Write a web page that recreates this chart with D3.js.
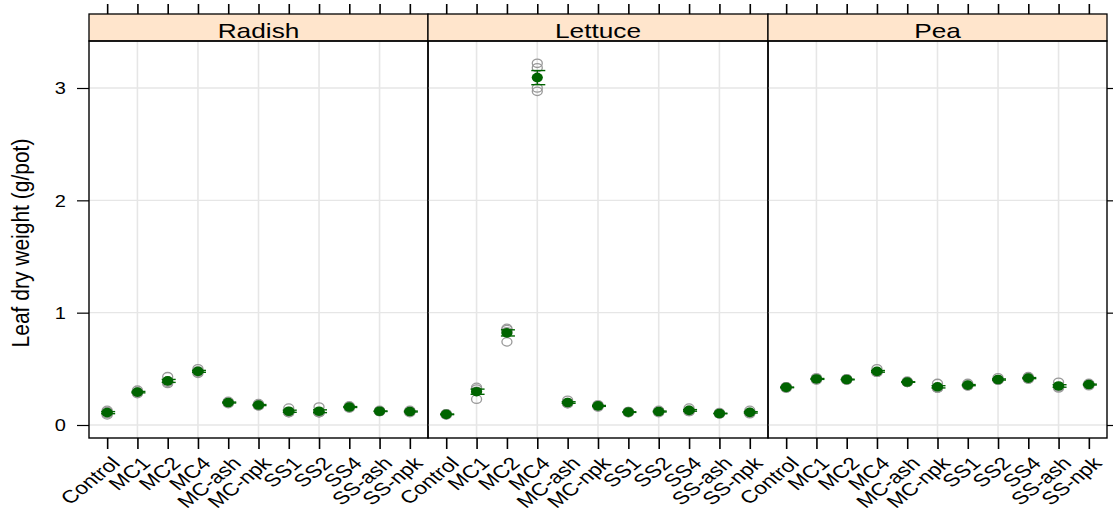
<!DOCTYPE html>
<html>
<head>
<meta charset="utf-8">
<script src="https://cdn.jsdelivr.net/npm/d3@7"></script>
<style>
  body { margin: 0; background: #fff; }
  svg { display: block; }
  text { font-family: "Liberation Sans", Arial, sans-serif; fill: #000; }
</style>
</head>
<body>
<svg id="chart" width="1113" height="513"></svg>
<script>
// Panels (crops) and the treatments along each x axis
const crops = ["Radish", "Lettuce", "Pea"];
const treatments = ["Control", "MC1", "MC2", "MC4", "MC-ash", "MC-npk",
                    "SS1", "SS2", "SS4", "SS-ash", "SS-npk"];
const yTickValues = [0, 1, 2, 3];
const gridY = [0, 1, 2, 3];
const gridXIndex = [1, 3, 5, 7, 9];   // pretty() breaks 2,4,6,8,10 of the factor axis
const yTitle = "Leaf dry weight (g/pot)";

// Leaf dry weight (g/pot) of each pot, four replicates per treatment
const radishLeaf = [
  [0.13, 0.09, 0.10, 0.12],
  [0.31, 0.29, 0.28, 0.29],
  [0.43, 0.37, 0.38, 0.39],
  [0.50, 0.47, 0.46, 0.48],
  [0.21, 0.19, 0.20, 0.20],
  [0.19, 0.17, 0.18, 0.17],
  [0.15, 0.11, 0.12, 0.11],
  [0.16, 0.11, 0.11, 0.11],
  [0.17, 0.16, 0.16, 0.15],
  [0.13, 0.12, 0.12, 0.12],
  [0.13, 0.12, 0.12, 0.11]
];
const lettuceLeaf = [
  [0.10, 0.09, 0.09, 0.10],
  [0.335, 0.23, 0.32, 0.30],
  [0.86, 0.74, 0.85, 0.83],
  [3.22, 3.18, 3.00, 2.97],
  [0.22, 0.19, 0.20, 0.19],
  [0.18, 0.17, 0.17, 0.16],
  [0.12, 0.11, 0.12, 0.11],
  [0.13, 0.11, 0.12, 0.12],
  [0.15, 0.12, 0.13, 0.12],
  [0.11, 0.10, 0.10, 0.10],
  [0.13, 0.10, 0.11, 0.11]
];
const peaLeaf = [
  [0.34, 0.33, 0.34, 0.33],
  [0.42, 0.40, 0.41, 0.41],
  [0.41, 0.40, 0.41, 0.40],
  [0.50, 0.47, 0.47, 0.47],
  [0.39, 0.38, 0.38, 0.38],
  [0.37, 0.33, 0.33, 0.33],
  [0.37, 0.35, 0.35, 0.35],
  [0.42, 0.40, 0.40, 0.40],
  [0.43, 0.42, 0.41, 0.41],
  [0.38, 0.33, 0.34, 0.34],
  [0.37, 0.35, 0.36, 0.36]
];
const cropData = [radishLeaf, lettuceLeaf, peaLeaf];

// ---- layout ----
const sx = 1.25;                       // horizontal stretch of glyphs and markers
const panelEdges = [89, 428, 768, 1107];
const stripTop = 14, stripBottom = 41, plotBottom = 438;
const stripFill = "#ffe5cc";
const green = "#006400";
const grey = "#999999";
const gridColor = "#e6e6e6";

const svg = d3.select("#chart");

const y = d3.scaleLinear().domain([0, 3]).range([425, 88]);

function meanSE(vals) {
  const m = d3.mean(vals);
  const se = d3.deviation(vals) / Math.sqrt(vals.length);
  return { m, se };
}

crops.forEach((crop, ci) => {
  const x0 = panelEdges[ci], x1 = panelEdges[ci + 1];
  const x = d3.scalePoint().domain(treatments).range([x0, x1]).padding(0.6);
  const g = svg.append("g");

  // grid
  g.selectAll("line.gy").data(gridY).join("line")
    .attr("x1", x0).attr("x2", x1)
    .attr("y1", d => y(d)).attr("y2", d => y(d))
    .attr("stroke", gridColor).attr("stroke-width", 1.3);
  g.selectAll("line.gx").data(gridXIndex).join("line")
    .attr("x1", d => x(treatments[d])).attr("x2", d => x(treatments[d]))
    .attr("y1", stripBottom).attr("y2", plotBottom)
    .attr("stroke", gridColor).attr("stroke-width", 1.6);

  // strip
  g.append("rect")
    .attr("x", x0).attr("y", stripTop)
    .attr("width", x1 - x0).attr("height", stripBottom - stripTop)
    .attr("fill", stripFill).attr("stroke", "#000").attr("stroke-width", 1.3);
  g.append("text")
    .attr("transform", `translate(${(x0 + x1) / 2},${(stripTop + stripBottom) / 2 + 3}) scale(${sx},1)`)
    .attr("text-anchor", "middle").attr("dominant-baseline", "central")
    .attr("font-size", 21).text(crop);

  // raw observations
  const data = cropData[ci];
  const obs = [];
  data.forEach((vals, ti) => vals.forEach(v => obs.push({ t: treatments[ti], v })));
  g.selectAll("ellipse.obs").data(obs).join("ellipse")
    .attr("cx", d => x(d.t)).attr("cy", d => y(d.v))
    .attr("rx", 5).attr("ry", 4.2)
    .attr("fill", "none").attr("stroke", grey).attr("stroke-width", 1.3);

  // mean +/- standard error
  const stats = data.map((vals, ti) => Object.assign({ t: treatments[ti] }, meanSE(vals)));
  const eb = g.selectAll("g.eb").data(stats).join("g");
  eb.append("line")
    .attr("x1", d => x(d.t)).attr("x2", d => x(d.t))
    .attr("y1", d => y(d.m - d.se)).attr("y2", d => y(d.m + d.se))
    .attr("stroke", green).attr("stroke-width", 1.3);
  [-1, 1].forEach(s => {
    eb.append("line")
      .attr("x1", d => x(d.t) - 6).attr("x2", d => x(d.t) + 8)
      .attr("y1", d => y(d.m + s * d.se)).attr("y2", d => y(d.m + s * d.se))
      .attr("stroke", green).attr("stroke-width", 1.4);
  });
  eb.append("ellipse")
    .attr("cx", d => x(d.t)).attr("cy", d => y(d.m))
    .attr("rx", 5.6).attr("ry", 4.8).attr("fill", green);

  // panel border
  g.append("rect")
    .attr("x", x0).attr("y", stripBottom)
    .attr("width", x1 - x0).attr("height", plotBottom - stripBottom)
    .attr("fill", "none").attr("stroke", "#000").attr("stroke-width", 1.4);

  // top ticks
  const top = g.append("g").attr("transform", `translate(0,${stripTop})`)
    .call(d3.axisTop(x).tickSize(10).tickSizeOuter(0).tickFormat(""));
  top.select(".domain").remove();
  top.selectAll("line").attr("stroke-width", 1.6);

  // bottom axis with rotated treatment names
  const bottom = g.append("g").attr("transform", `translate(0,${plotBottom})`)
    .call(d3.axisBottom(x).tickSize(11).tickSizeOuter(0));
  bottom.select(".domain").remove();
  bottom.selectAll("line").attr("stroke-width", 1.6);
  bottom.selectAll("text")
    .attr("x", 0).attr("y", 0).attr("dy", "0.35em")
    .attr("text-anchor", "end")
    .attr("font-size", 18).attr("font-family", null).attr("fill", "#000")
    .attr("transform", `translate(8,22) scale(${sx},1) rotate(-45)`);
});

// left axis
const left = svg.append("g").attr("transform", `translate(${panelEdges[0]},0)`)
  .call(d3.axisLeft(y).tickValues(yTickValues).tickSize(12).tickSizeOuter(0).tickFormat(d3.format("d")));
left.select(".domain").remove();
left.selectAll("line").attr("stroke-width", 1.2);
left.selectAll("text")
  .attr("x", 0).attr("dy", "0.36em")
  .attr("font-size", 16).attr("font-family", null).attr("fill", "#000")
  .attr("text-anchor", "end")
  .attr("transform", `translate(-23,0) scale(${sx},1)`);

// right ticks
const right = svg.append("g").attr("transform", `translate(${panelEdges[3]},0)`)
  .call(d3.axisRight(y).tickValues(yTickValues).tickSize(6).tickSizeOuter(0).tickFormat(""));
right.select(".domain").remove();
right.selectAll("line").attr("stroke-width", 1.2);

// y axis title
svg.append("text")
  .attr("transform", `translate(21,243) scale(1.15,1) rotate(-90)`)
  .attr("text-anchor", "middle").attr("dominant-baseline", "central")
  .attr("font-size", 21).text(yTitle);
</script>
</body>
</html>
